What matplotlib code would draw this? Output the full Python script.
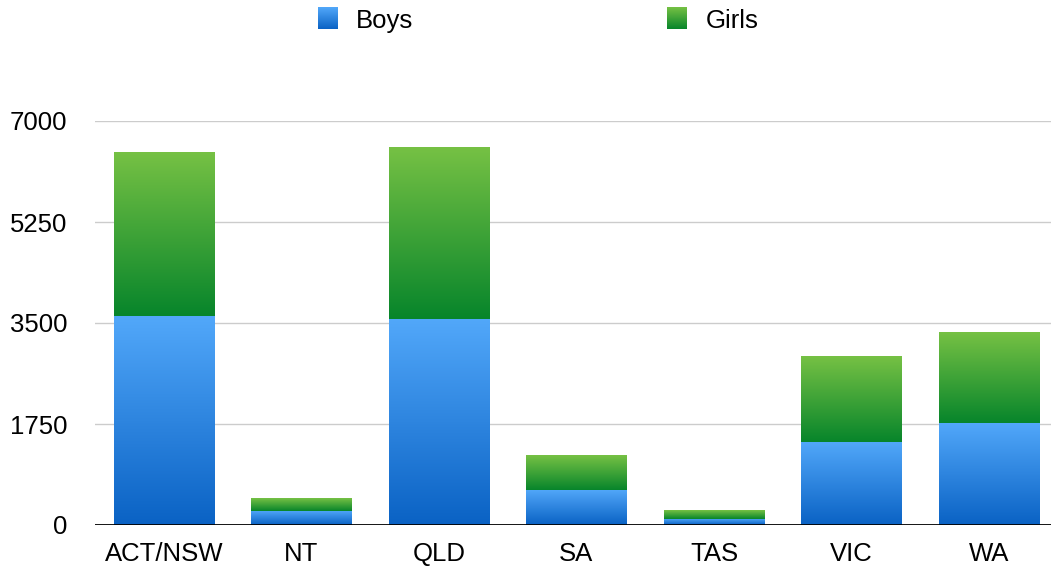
import matplotlib
matplotlib.use("Agg")
import matplotlib.pyplot as plt
import numpy as np
from matplotlib.colors import LinearSegmentedColormap

states = ["ACT/NSW", "NT", "QLD", "SA", "TAS", "VIC", "WA"]
boys = [3620, 245, 3570, 610, 105, 1440, 1770]
girls = [2830, 225, 2965, 605, 140, 1490, 1575]
yticks = [0, 1750, 3500, 5250, 7000]

plt.rcParams["font.family"] = ["Liberation Sans", "DejaVu Sans"]

blue = LinearSegmentedColormap.from_list("blue", ["#0a62c4", "#52a8fa"])
green = LinearSegmentedColormap.from_list("green", ["#07852b", "#76c144"])
grad = np.linspace(0, 1, 256).reshape(-1, 1)

fig = plt.figure(figsize=(10.51, 5.72), dpi=100)
ax = fig.add_axes([95 / 1051, 47 / 572, 1 - 95 / 1051, 404 / 572])

x = np.arange(len(states))
b1 = ax.bar(x, boys, 0.73, color="none")
b2 = ax.bar(x, girls, 0.73, bottom=boys, color="none")


def fill(bars, cmap):
    for p in bars:
        x0, y0 = p.get_x(), p.get_y()
        ax.imshow(grad, cmap=cmap, origin="lower", aspect="auto",
                  extent=(x0, x0 + p.get_width(), y0, y0 + p.get_height()),
                  zorder=2)


fill(b1, blue)
fill(b2, green)

ax.set_xlim(-0.5, 6.45)
ax.set_ylim(0, 7000)
ax.set_yticks(yticks)
ax.set_xticks(x)
ax.set_xticklabels(states)
ax.tick_params(axis="both", length=0, labelsize=18.5)
ax.tick_params(axis="y", pad=20)
ax.tick_params(axis="x", pad=12.5)
ax.grid(axis="y", color="#cccccc", linewidth=1.0, zorder=0)
ax.set_axisbelow(True)
for s in ax.spines.values():
    s.set_visible(False)
ax.axhline(0, color="black", linewidth=2, zorder=3)

# legend
for lx, tx, label, cmap in [(318, 356, "Boys", blue), (667, 706, "Girls", green)]:
    la = fig.add_axes([lx / 1051, (572 - 29) / 572, 20 / 1051, 22 / 572])
    la.imshow(grad, cmap=cmap, origin="lower", aspect="auto")
    la.axis("off")
    fig.text(tx / 1051, (572 - 21) / 572, label, fontsize=18.5, va="center")

fig.savefig("out.png", dpi=100)
